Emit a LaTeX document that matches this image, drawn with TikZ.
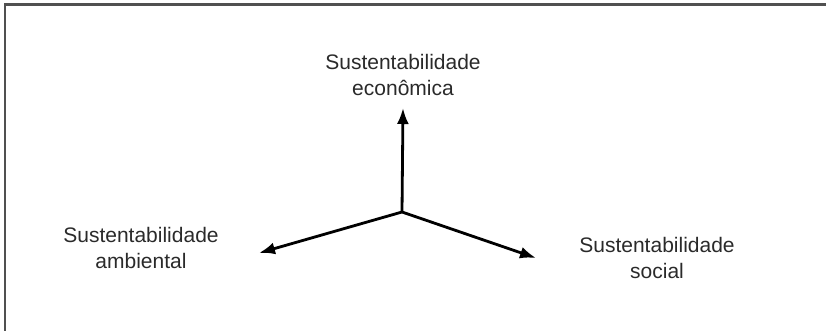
\documentclass[tikz,border=0pt]{standalone}
\usepackage{fontspec}
\setmainfont{Liberation Sans}
\usetikzlibrary{arrows.meta}
\definecolor{txt}{HTML}{2A2A2A}
\definecolor{frame}{HTML}{505050}
\begin{document}
\begin{tikzpicture}[x=1pt,y=-1pt,
  label/.style={font=\fontsize{21}{26}\selectfont, text=txt, align=center, inner sep=0pt},
  axis/.style={line width=2.8pt, -{Latex[length=16pt,width=12pt]}}]
  \useasboundingbox (0,0) rectangle (826,331);
  % open frame: top and left sides only
  \draw[frame, line width=2.2pt] (5,331) -- (5,4.5) -- (826,4.5);
  % axes
  \coordinate (c) at (402,212);
  \coordinate (up) at (403,108);
  \coordinate (lt) at (259,253);
  \coordinate (rt) at (536,258);
  \draw[axis] (c) -- (up);
  \draw[axis] (c) -- (lt);
  \draw[axis] (c) -- (rt);
  % labels
  \node[label] (eco) at (403,75) {Sustentabilidade\\econômica};
  \node[label] (amb) at (141,248) {Sustentabilidade\\ambiental};
  \node[label] (soc) at (657,258) {Sustentabilidade\\social};
\end{tikzpicture}
\end{document}
